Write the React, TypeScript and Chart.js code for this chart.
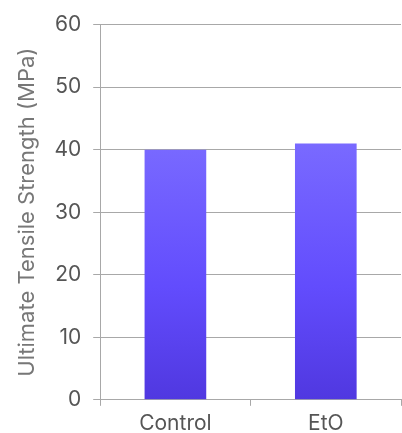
import React, { useEffect, useRef } from "react";
import { Chart, registerables } from "chart.js";

Chart.register(...registerables);

const categories = ["Control", "EtO"];
const strengthValues = [40, 41];
const yTicks = [0, 10, 20, 30, 40, 50, 60];

export default function App() {
  const ref = useRef<HTMLCanvasElement>(null);
  useEffect(() => {
    document.body.style.margin = "0";
    const ctx = ref.current!.getContext("2d")!;
    const chart = new Chart(ctx, {
      type: "bar",
      data: {
        labels: categories,
        datasets: [
          {
            data: strengthValues,
            backgroundColor: (c: any) => {
              const area = c.chart.chartArea;
              if (!area) return "#6a55ff";
              const g = c.chart.ctx.createLinearGradient(0, area.top, 0, area.bottom);
              g.addColorStop(0, "#8070ff");
              g.addColorStop(0.3, "#7a6bff");
              g.addColorStop(0.7, "#624cfd");
              g.addColorStop(1, "#5038e0");
              return g;
            },
            borderWidth: 0,
            categoryPercentage: 1,
            barPercentage: 0.41,
          },
        ],
      },
      options: {
        animation: false,
        responsive: false,
        maintainAspectRatio: false,
        layout: { padding: { top: 9, right: 1, left: 14, bottom: 0 } },
        plugins: { legend: { display: false }, tooltip: { enabled: false } },
        scales: {
          x: {
            grid: { drawOnChartArea: false, drawTicks: true, tickLength: 6, color: "#a8a8a8" },
            border: { color: "#a8a8a8" },
            ticks: { color: "#555", font: { family: "Inter", size: 21 }, padding: 5 },
          },
          y: {
            min: 0,
            max: 60,
            afterBuildTicks: (s: any) => {
              s.ticks = yTicks.map((v) => ({ value: v }));
            },
            grid: { color: "#a8a8a8", tickLength: 7 },
            border: { color: "#a8a8a8" },
            ticks: { color: "#555", font: { family: "Inter", size: 21 }, padding: 12 },
            title: {
              display: true,
              text: "Ultimate Tensile Strength (MPa)",
              color: "#777",
              font: { family: "Inter", size: 22 },
              padding: { top: 0, bottom: 2 },
            },
          },
        },
      },
    });
    return () => chart.destroy();
  }, []);
  return (
    <div style={{ width: 402, height: 433, overflow: "hidden", position: "relative" }}>
      <canvas ref={ref} width={402} height={441} style={{ display: "block" }} />
    </div>
  );
}
